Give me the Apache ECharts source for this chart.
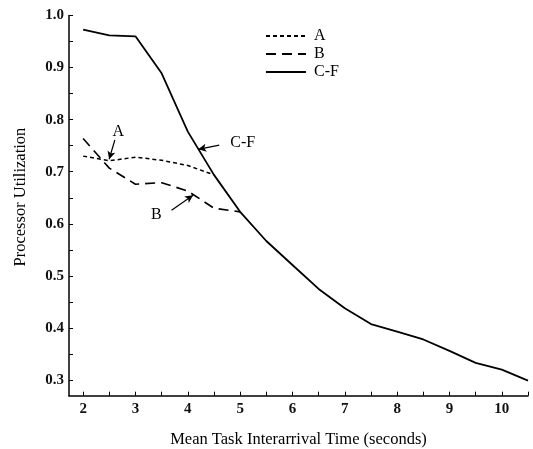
<!DOCTYPE html>
<html><head><meta charset="utf-8">
<script src="https://cdn.jsdelivr.net/npm/echarts@6/dist/echarts.min.js"></script>
<style>html,body{margin:0;padding:0;background:#fff}#c{width:533px;height:449px}</style>
</head><body><div id="c"></div>
<script>
const xVals = [2, 2.5, 3, 3.5, 4, 4.5, 5, 5.5, 6, 6.5, 7, 7.5, 8, 8.5, 9, 9.5, 10, 10.5];
const seriesA = [0.730, 0.721, 0.728, 0.722, 0.712, 0.694];
const seriesB = [0.764, 0.707, 0.676, 0.679, 0.663, 0.630, 0.623];
const seriesCF = [0.973, 0.962, 0.960, 0.889, 0.777, 0.694, 0.623, 0.567, 0.521, 0.475, 0.438, 0.4075, 0.393, 0.378, 0.356, 0.333, 0.320, 0.299];
const yTickLabels = [0.3, 0.4, 0.5, 0.6, 0.7, 0.8, 0.9, 1.0];
const yTicks = [0.3, 0.35, 0.4, 0.45, 0.5, 0.55, 0.6, 0.65, 0.7, 0.75, 0.8, 0.85, 0.9, 0.95, 1.0];
const xTickLabels = [2, 3, 4, 5, 6, 7, 8, 9, 10];
const xTicks = [2, 2.5, 3, 3.5, 4, 4.5, 5, 5.5, 6, 6.5, 7, 7.5, 8, 8.5, 9, 9.5, 10, 10.5];
const annotNames = ['A', 'B', 'C-F'];
const annotText = [[2.67, 0.777], [3.40, 0.617], [5.05, 0.755]];
const arrowFrom = [[2.606, 0.761], [3.69, 0.626], [4.60, 0.751]];
const arrowTo = [[2.497, 0.724], [4.10, 0.655], [4.20, 0.743]];

const font = 'Liberation Serif';
const pair = (ys) => ys.map((y, i) => [xVals[i], y]);
const chart = echarts.init(document.getElementById('c'), null, {renderer: 'canvas'});
chart.setOption({
  animation: false,
  backgroundColor: '#fff',
  grid: {left: 69, right: 5, top: 15.5, bottom: 53.3, containLabel: false, outerBoundsMode: 'none'},
  legend: {
    orient: 'vertical', left: 260, top: 23, itemWidth: 40, itemHeight: 12, itemGap: 2,
    itemStyle: {opacity: 0},
    textStyle: {fontFamily: font, fontSize: 16, color: '#000', padding: [0, 0, 0, 3]},
    data: ['A', 'B', 'C-F']
  },
  xAxis: {
    type: 'value', min: 1.73, max: 10.5,
    name: 'Mean Task Interarrival Time (seconds)', nameLocation: 'middle', nameGap: 35,
    nameTextStyle: {fontFamily: font, fontSize: 16.5, color: '#000'},
    axisLine: {show: true, lineStyle: {color: '#000', width: 1.5}},
    axisTick: {show: true, inside: true, length: 4, customValues: xTicks, lineStyle: {color: '#000', width: 1}},
    axisLabel: {customValues: xTickLabels, fontFamily: font, fontSize: 15, fontWeight: 'bold', color: '#111', margin: 6},
    splitLine: {show: false}
  },
  yAxis: {
    type: 'value', min: 0.27, max: 1.0,
    name: 'Processor Utilization', nameLocation: 'middle', nameGap: 40, nameRotate: 90,
    nameTextStyle: {fontFamily: font, fontSize: 16.5, color: '#000', padding: [0, 0, 0, 17]},
    axisLine: {show: true, lineStyle: {color: '#000', width: 1.5}},
    axisTick: {show: true, inside: true, length: 4, customValues: yTicks, lineStyle: {color: '#000', width: 1}},
    axisLabel: {customValues: yTickLabels, formatter: v => v.toFixed(1), fontFamily: font, fontSize: 15, fontWeight: 'bold', color: '#111', margin: 5},
    splitLine: {show: false}
  },
  series: [
    {name: 'A', type: 'line', data: pair(seriesA), symbol: 'none',
     lineStyle: {color: '#000', width: 1.5, type: [4, 3]}, itemStyle: {color: '#000'}},
    {name: 'B', type: 'line', data: pair(seriesB), symbol: 'none',
     lineStyle: {color: '#000', width: 1.6, type: [10, 6]}, itemStyle: {color: '#000'}},
    {name: 'C-F', type: 'line', data: pair(seriesCF), symbol: 'none',
     lineStyle: {color: '#000', width: 1.8}, itemStyle: {color: '#000'}},
    {name: 'annot', type: 'line', data: [], symbol: 'none', silent: true,
     markLine: {
       silent: true, symbol: ['none', 'arrow'], symbolSize: [6, 8],
       lineStyle: {color: '#000', width: 1.2, type: 'solid'}, label: {show: false},
       data: arrowFrom.map((f, i) => [{coord: f}, {coord: arrowTo[i]}])
     },
     markPoint: {
       silent: true, symbol: 'circle', symbolSize: 0,
       label: {show: true, position: 'inside', fontFamily: font, fontSize: 16, color: '#000', formatter: p => p.name},
       data: annotNames.map((n, i) => ({name: n, coord: annotText[i]}))
     }}
  ]
});
</script></body></html>
